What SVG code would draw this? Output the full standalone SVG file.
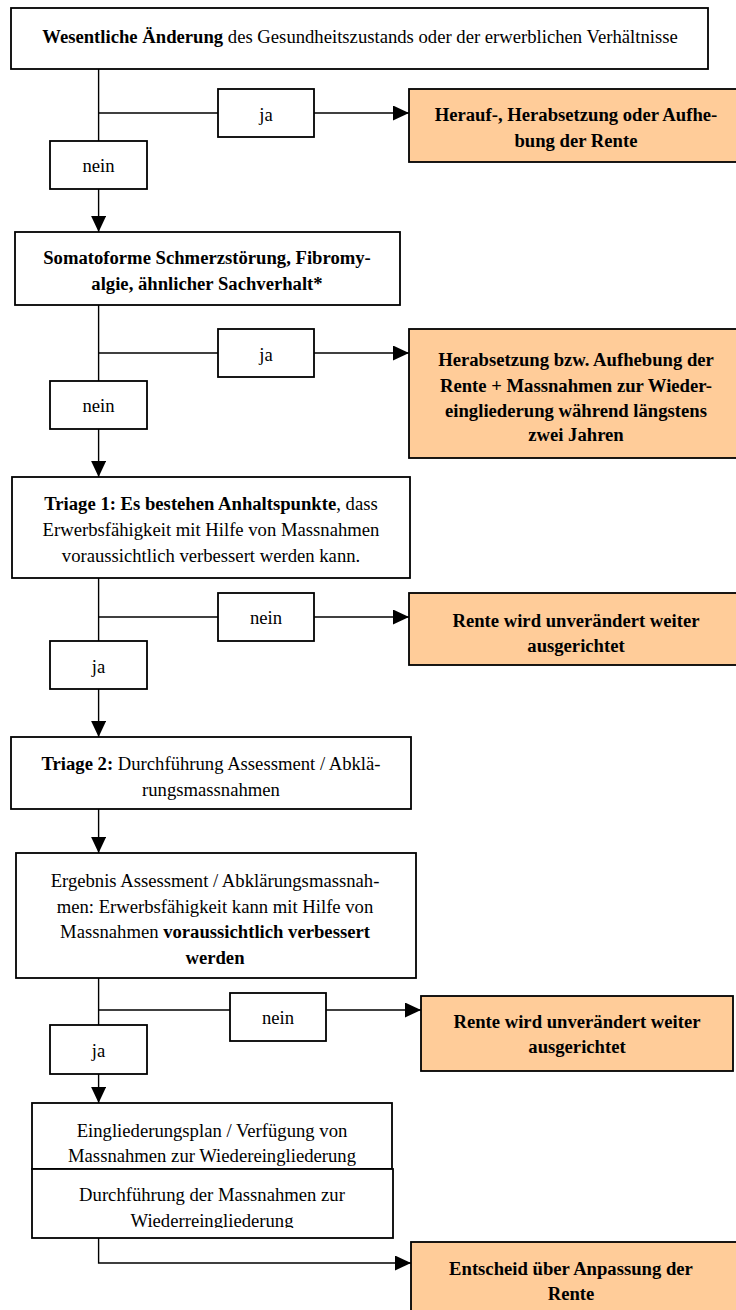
<svg xmlns="http://www.w3.org/2000/svg" width="736" height="1310" viewBox="0 0 736 1310">
<style>
text{font-family:"Liberation Serif","Times New Roman",serif;font-size:18.67px;fill:#000;text-anchor:middle}
.b{font-weight:bold}
.box{fill:#fff;stroke:#000;stroke-width:1.8}
.ob{fill:#FFCC99;stroke:#000;stroke-width:1.8}
.c{fill:none;stroke:#000;stroke-width:1.4}
</style>
<defs>
<marker id="ah" markerUnits="userSpaceOnUse" markerWidth="16" markerHeight="15" refX="16" refY="7.5" orient="auto">
<path d="M0,0 L16,7.5 L0,15 z" fill="#000"/>
</marker>
<clipPath id="clip7"><rect x="32" y="1169" width="362" height="59"/></clipPath>
</defs>
<rect width="736" height="1310" fill="#fff"/>
<g id="connectors">
<path class="c" d="M98.6,69 V141"/>
<path class="c" d="M98.6,113 H218"/>
<path class="c" d="M314,113 H409" marker-end="url(#ah)"/>
<path class="c" d="M98.6,189 V232" marker-end="url(#ah)"/>
<path class="c" d="M98.6,305 V381"/>
<path class="c" d="M98.6,353 H218"/>
<path class="c" d="M314,353 H409" marker-end="url(#ah)"/>
<path class="c" d="M98.6,429 V477" marker-end="url(#ah)"/>
<path class="c" d="M98.6,578 V641"/>
<path class="c" d="M98.6,617 H218"/>
<path class="c" d="M314,617 H409" marker-end="url(#ah)"/>
<path class="c" d="M98.6,689 V737" marker-end="url(#ah)"/>
<path class="c" d="M98.6,809 V853" marker-end="url(#ah)"/>
<path class="c" d="M98.6,978 V1025"/>
<path class="c" d="M98.6,1010 H230"/>
<path class="c" d="M326,1010 H421" marker-end="url(#ah)"/>
<path class="c" d="M98.6,1074 V1103" marker-end="url(#ah)"/>
<path class="c" d="M98.6,1238 V1263 H411" marker-end="url(#ah)"/>
</g>
<g id="n1">
<rect class="box" x="11" y="8" width="697" height="61"/>
<text x="360" y="43"><tspan class="b">Wesentliche Änderung</tspan> des Gesundheitszustands oder der erwerblichen Verhältnisse</text>
</g>
<g id="l1ja">
<rect class="box" x="218" y="89" width="96" height="48"/>
<text x="266" y="121">ja</text>
</g>
<g id="o1">
<rect class="ob" x="409" y="89" width="340" height="73"/>
<text class="b" x="576" y="121">Herauf-, Herabsetzung oder Aufhe-</text>
<text class="b" x="576" y="147">bung der Rente</text>
</g>
<g id="l1nein">
<rect class="box" x="50" y="141" width="97" height="48"/>
<text x="98.5" y="172">nein</text>
</g>
<g id="n2">
<rect class="box" x="15" y="232" width="385" height="73"/>
<text class="b" x="207" y="264">Somatoforme Schmerzstörung, Fibromy-</text>
<text class="b" x="207" y="290">algie, ähnlicher Sachverhalt*</text>
</g>
<g id="l2ja">
<rect class="box" x="218" y="329" width="96" height="48"/>
<text x="266" y="361">ja</text>
</g>
<g id="o2">
<rect class="ob" x="409" y="329" width="340" height="129"/>
<text class="b" x="576" y="366">Herabsetzung bzw. Aufhebung der</text>
<text class="b" x="576" y="392">Rente + Massnahmen zur Wieder-</text>
<text class="b" x="576" y="417">eingliederung während längstens</text>
<text class="b" x="576" y="441">zwei Jahren</text>
</g>
<g id="l2nein">
<rect class="box" x="50" y="381" width="97" height="48"/>
<text x="98.5" y="412">nein</text>
</g>
<g id="n3">
<rect class="box" x="12" y="477" width="398" height="101"/>
<text x="211" y="510"><tspan class="b">Triage 1: Es bestehen Anhaltspunkte</tspan>, dass</text>
<text x="211" y="536">Erwerbsfähigkeit mit Hilfe von Massnahmen</text>
<text x="211" y="562">voraussichtlich verbessert werden kann.</text>
</g>
<g id="l3nein">
<rect class="box" x="218" y="593" width="96" height="48"/>
<text x="266" y="624">nein</text>
</g>
<g id="o3">
<rect class="ob" x="409" y="593" width="340" height="72"/>
<text class="b" x="576" y="627">Rente wird unverändert weiter</text>
<text class="b" x="576" y="652">ausgerichtet</text>
</g>
<g id="l3ja">
<rect class="box" x="50" y="641" width="97" height="48"/>
<text x="98.5" y="673">ja</text>
</g>
<g id="n4">
<rect class="box" x="11" y="737" width="400" height="72"/>
<text x="211" y="770"><tspan class="b">Triage 2:</tspan> Durchführung Assessment / Abklä-</text>
<text x="211" y="796">rungsmassnahmen</text>
</g>
<g id="n5">
<rect class="box" x="16" y="853" width="400" height="125"/>
<text x="215" y="887">Ergebnis Assessment / Abklärungsmassnah-</text>
<text x="215" y="913">men: Erwerbsfähigkeit kann mit Hilfe von</text>
<text x="215" y="938">Massnahmen <tspan class="b">voraussichtlich verbessert</tspan></text>
<text class="b" x="215" y="964">werden</text>
</g>
<g id="l4nein">
<rect class="box" x="230" y="993" width="96" height="48"/>
<text x="278" y="1024">nein</text>
</g>
<g id="o4">
<rect class="ob" x="421" y="996" width="312" height="75"/>
<text class="b" x="577" y="1028">Rente wird unverändert weiter</text>
<text class="b" x="577" y="1053">ausgerichtet</text>
</g>
<g id="l4ja">
<rect class="box" x="50" y="1025" width="97" height="49"/>
<text x="98.5" y="1057">ja</text>
</g>
<g id="n6">
<rect class="box" x="32" y="1103" width="360" height="66"/>
<text x="212" y="1137">Eingliederungsplan / Verfügung von</text>
<text x="212" y="1162">Massnahmen zur Wiedereingliederung</text>
</g>
<g id="n7">
<rect class="box" x="32" y="1169" width="361" height="69"/>
<text x="212" y="1201">Durchführung der Massnahmen zur</text>
<text x="212" y="1227" clip-path="url(#clip7)">Wiederreingliederung</text>
</g>
<g id="o5">
<rect class="ob" x="411" y="1242" width="340" height="80"/>
<text class="b" x="571" y="1275">Entscheid über Anpassung der</text>
<text class="b" x="571" y="1300">Rente</text>
</g>
</svg>
